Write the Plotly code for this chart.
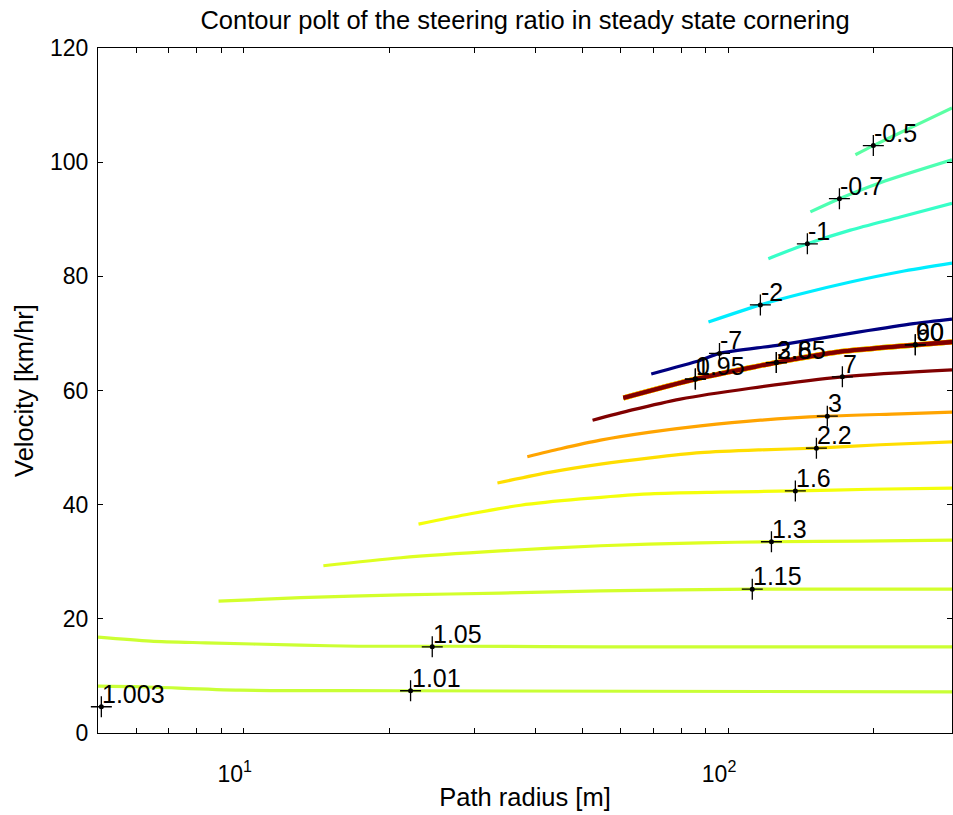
import math
import plotly.graph_objects as go

FONT = "Liberation Sans, Arial, Helvetica, sans-serif"

# ---- contour lines of the steering ratio: path radius R [m] vs velocity V [km/h] ----
lvl_neg05 = -0.5
r_neg05 = [183.2, 199.5, 237.9, 290]
v_neg05 = [101.3, 102.9, 106.0, 109.5]

lvl_neg07 = -0.7
r_neg07 = [147.9, 169.8, 206.2, 290]
v_neg07 = [91.3, 93.6, 96.4, 100.4]

lvl_neg1 = -1
r_neg1 = [121.1, 145.8, 178.9, 226.8, 290]
v_neg1 = [83.1, 85.7, 88.1, 90.4, 92.8]

lvl_neg2 = -2
r_neg2 = [91.1, 116.6, 141.0, 178.9, 226.8, 290]
v_neg2 = [72.0, 75.0, 76.9, 79.0, 80.8, 82.3]

lvl_neg7 = -7
r_neg7 = [69.4, 87.7, 96.0, 128.2, 178.9, 241.3, 290]
v_neg7 = [62.9, 65.3, 66.5, 68.0, 70.0, 71.7, 72.5]

# several levels crowd together next to the critical speed
lvl_crit = [0.95, 1, 2.6, 3.85, 60, 90]
r_crit = [60.8, 85.6, 111.2, 125.8, 170.5, 243.6, 290]
v_crit = [58.7, 62.0, 64.0, 64.9, 66.8, 68.0, 68.5]

lvl_7 = 7
r_7 = [52.5, 63.4, 79.7, 111.2, 172.2, 290]
v_7 = [54.8, 56.6, 58.5, 60.4, 62.4, 63.6]

lvl_3 = 3
r_3 = [38.5, 45.1, 54.5, 69.1, 87.7, 116.6, 160.3, 226.8, 290]
v_3 = [48.4, 49.8, 51.3, 52.7, 53.8, 54.8, 55.5, 55.9, 56.2]

lvl_22 = 2.2
r_22 = [33.4, 43.0, 54.5, 69.1, 87.7, 116.6, 152.2, 206.2, 290]
v_22 = [43.8, 45.7, 47.1, 48.2, 49.1, 49.6, 49.9, 50.5, 51.0]

lvl_16 = 1.6
r_16 = [22.95, 29.4, 37.3, 49.6, 69.1, 96.4, 137.7, 196.7, 290]
v_16 = [36.6, 38.4, 39.9, 41.0, 41.9, 42.2, 42.4, 42.7, 42.9]

lvl_13 = 1.3
r_13 = [14.6, 21.1, 33.9, 54.5, 87.7, 122.9, 187.6, 290]
v_13 = [29.3, 30.7, 31.9, 32.8, 33.3, 33.5, 33.6, 33.8]

lvl_115 = 1.15
r_115 = [8.87, 13.1, 21.1, 33.9, 54.5, 112.2, 178.9, 290]
v_115 = [23.1, 23.7, 24.2, 24.5, 24.9, 25.2, 25.2, 25.2]

lvl_105 = 1.05
r_105 = [5.0, 6.42, 8.34, 13.1, 17.25, 26.7, 54.5, 290]
v_105 = [16.8, 16.1, 15.8, 15.4, 15.2, 15.2, 15.1, 15.1]

lvl_101 = 1.01
r_101 = [5.0, 6.12, 9.84, 21.1, 290]
v_101 = [8.2, 8.1, 7.5, 7.4, 7.2]

# ---- inline contour labels (clabel style) ----
label_text = ["-0.5", "-0.7", "-1", "-2", "-7", "0.95", "1", "2.6", "3.85",
              "7", "90", "60", "3", "2.2", "1.6", "1.3", "1.15", "1.05",
              "1.01", "1.003"]
label_r = [199.5, 169.8, 145.8, 116.6, 96.0, 85.6, 85.6, 125.8, 125.8,
           172.2, 243.6, 243.6, 160.3, 152.2, 137.7, 122.9, 112.2, 24.5,
           22.1, 5.08]
label_v = [102.9, 93.6, 85.7, 75.0, 66.5, 62.0, 62.0, 64.9, 64.9,
           62.4, 68.0, 68.0, 55.5, 49.9, 42.4, 33.5, 25.2, 15.1,
           7.4, 4.6]

# ---- axes ----
x_range = [5, 290]
y_range = [0, 120]
x_major = [10, 100]
x_major_text = ["10<sup>1</sup>", "10<sup>2</sup>"]
x_minor = [5, 6, 7, 8, 9, 10, 20, 30, 40, 50, 60, 70, 80, 90, 100, 200]
y_ticks = [0, 20, 40, 60, 80, 100, 120]
C_LIM = (-7, 7)


def jet(level):
    """MATLAB-style jet colour for a contour level."""
    t = (level - C_LIM[0]) / (C_LIM[1] - C_LIM[0])
    t = min(1.0, max(0.0, t))
    r = min(1.0, max(0.0, 1.5 - abs(4 * t - 3)))
    g = min(1.0, max(0.0, 1.5 - abs(4 * t - 2)))
    b = min(1.0, max(0.0, 1.5 - abs(4 * t - 1)))
    return f"rgb({round(r*255)},{round(g*255)},{round(b*255)})"


fig = go.Figure()

contours = [
    (lvl_101, r_101, v_101), (lvl_105, r_105, v_105), (lvl_115, r_115, v_115),
    (lvl_13, r_13, v_13), (lvl_16, r_16, v_16), (lvl_22, r_22, v_22),
    (lvl_3, r_3, v_3), (lvl_7, r_7, v_7),
    (lvl_neg7, r_neg7, v_neg7), (lvl_neg2, r_neg2, v_neg2),
    (lvl_neg1, r_neg1, v_neg1), (lvl_neg07, r_neg07, v_neg07),
    (lvl_neg05, r_neg05, v_neg05),
]
for lvl, rr, vv in contours:
    fig.add_trace(go.Scatter(x=rr, y=vv, mode="lines",
                             line=dict(color=jet(lvl), width=3.2,
                                       shape="spline", smoothing=0.8),
                             hoverinfo="skip", showlegend=False))

# stacked lines near the critical speed: lower levels wider underneath
crit_width = {0.95: 5.2, 1: 5.2, 2.6: 5.2, 3.85: 4.8, 60: 3.8, 90: 3.8}
for lvl in lvl_crit:
    fig.add_trace(go.Scatter(x=r_crit, y=v_crit, mode="lines",
                             line=dict(color=jet(lvl), width=crit_width[lvl],
                                       shape="spline", smoothing=0.8),
                             hoverinfo="skip", showlegend=False))

# label markers: "+" with a dot
fig.add_trace(go.Scatter(x=label_r, y=label_v, mode="markers",
                         marker=dict(symbol="cross-thin", size=15,
                                     line=dict(color="black", width=1.3)),
                         cliponaxis=False, hoverinfo="skip", showlegend=False))
fig.add_trace(go.Scatter(x=label_r, y=label_v, mode="markers",
                         marker=dict(symbol="circle", size=5, color="black"),
                         cliponaxis=False, hoverinfo="skip", showlegend=False))

for txt, rr, vv in zip(label_text, label_r, label_v):
    fig.add_annotation(x=math.log10(rr), y=vv, xref="x", yref="y",
                       text=txt, showarrow=False, xanchor="left",
                       yanchor="bottom", xshift=-1, yshift=-3,
                       font=dict(family=FONT, size=25, color="black"))

axis_common = dict(showline=True, linecolor="black", linewidth=1.3,
                   mirror="ticks", ticks="inside", tickcolor="black",
                   ticklen=5, tickwidth=1, showgrid=False, zeroline=False,
                   tickfont=dict(family=FONT, size=23, color="black"))

fig.update_xaxes(type="log", range=[math.log10(x_range[0]), math.log10(x_range[1])],
                 tickmode="array", tickvals=x_major, ticktext=x_major_text,
                 minor=dict(tickmode="array", tickvals=x_minor, ticks="inside",
                            ticklen=5, tickcolor="black", tickwidth=1,
                            showgrid=False),
                 ticklabelstandoff=20, ticklabelshift=-9,
                 title=dict(text="Path radius [m]", standoff=2,
                            font=dict(family=FONT, size=25.5, color="black")),
                 **axis_common)
fig.update_yaxes(range=y_range, tickmode="array", tickvals=y_ticks,
                 ticklabelstandoff=4,
                 title=dict(text="Velocity [km/hr]", standoff=8,
                            font=dict(family=FONT, size=25.5, color="black")),
                 **axis_common)

fig.update_layout(
    width=953, height=815,
    margin=dict(l=98, r=1, t=48, b=82),
    paper_bgcolor="white", plot_bgcolor="white",
    title=dict(text="Contour polt of the steering ratio in steady state cornering",
               x=0.5, xref="paper", y=1 - 20 / 815, yref="container",
               xanchor="center", yanchor="middle",
               font=dict(family=FONT, size=25.5, color="black")),
)

fig.write_html("out.html")
